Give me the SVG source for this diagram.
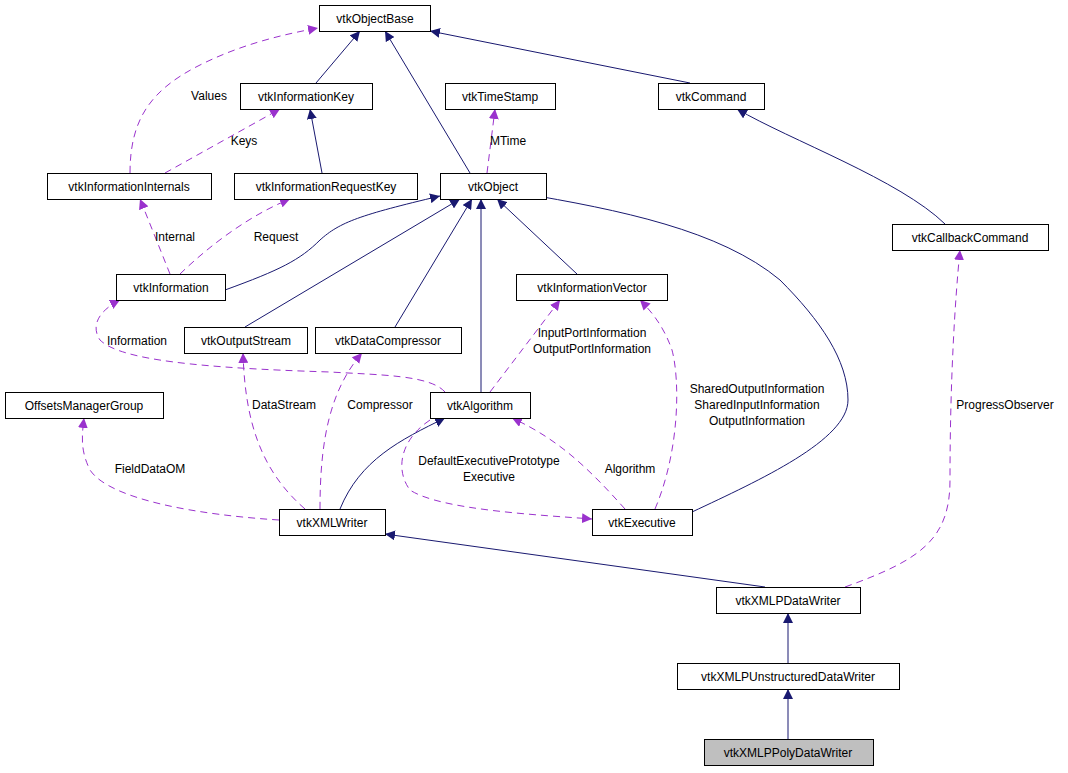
<svg xmlns="http://www.w3.org/2000/svg" width="1068" height="773" viewBox="0 0 1068 773">
<style>
text{font-family:"Liberation Sans",Arial,sans-serif;font-size:12px;fill:#000}
.n rect{fill:#fff;stroke:#000;stroke-width:1}
.n text{text-anchor:middle}
.s{fill:none;stroke:#191970;stroke-width:1;marker-end:url(#ms)}
.d{fill:none;stroke:#9a32cd;stroke-width:1;stroke-dasharray:7,5;marker-end:url(#md)}
.l{text-anchor:middle}
</style>
<defs>
<marker id="ms" viewBox="0 0 10 10" refX="10" refY="5" markerWidth="10" markerHeight="10" markerUnits="userSpaceOnUse" orient="auto"><path d="M0,0L10,5L0,10z" fill="#191970"/></marker>
<marker id="md" viewBox="0 0 10 10" refX="10" refY="5" markerWidth="10" markerHeight="10" markerUnits="userSpaceOnUse" orient="auto"><path d="M0,0L10,5L0,10z" fill="#9a32cd"/></marker>
</defs>
<rect width="1068" height="773" fill="#fff"/>
<g id="edges">
<path class="s" d="M316,83L360,31"/>
<path class="s" d="M470,173L385,31"/>
<path class="s" d="M690,83L430,31"/>
<path class="s" d="M322,173L310,109"/>
<path class="s" d="M945,224C900,180 790,140 737,109"/>
<path class="s" d="M225,290C280,270 300,260 320,240C340,222 360,215 440,196"/>
<path class="s" d="M245,327L460,199"/>
<path class="s" d="M395,327L472,199"/>
<path class="s" d="M481,392L481,199"/>
<path class="s" d="M577,274L497,199"/>
<path class="s" d="M692,512C760,480 848,440 848,400C848,360 820,320 780,280C720,230 620,210 520,193"/>
<path class="s" d="M340,509C360,460 400,440 445,418"/>
<path class="s" d="M765,587L385,534"/>
<path class="s" d="M788,663L788,613"/>
<path class="s" d="M788,739L788,689"/>
<path class="d" d="M130,173C130,120 150,90 200,65C240,45 280,35 318,28"/>
<path class="d" d="M165,173L280,109"/>
<path class="d" d="M487,173L495,109"/>
<path class="d" d="M170,274L140,199"/>
<path class="d" d="M180,274C210,245 250,215 290,199"/>
<path class="d" d="M445,392C430,375 380,375 330,372C200,368 120,360 100,340C90,325 100,310 120,300"/>
<path class="d" d="M490,392L560,300"/>
<path class="d" d="M655,509C680,450 680,380 672,350C665,330 655,315 640,300"/>
<path class="d" d="M305,509C260,470 245,420 243,353"/>
<path class="d" d="M320,509C320,440 330,390 362,353"/>
<path class="d" d="M279,520C200,515 110,500 90,470C80,450 82,435 84,418"/>
<path class="d" d="M625,509C590,470 560,440 512,418"/>
<path class="d" d="M430,420C400,440 395,470 410,490C440,510 540,515 592,519"/>
<path class="d" d="M845,587C920,560 950,540 950,480C950,380 955,300 960,250"/>
</g>
<g id="labels">
<text class="l" x="209" y="100">Values</text>
<text class="l" x="244" y="145">Keys</text>
<text class="l" x="508" y="145">MTime</text>
<text class="l" x="175" y="241">Internal</text>
<text class="l" x="276" y="241">Request</text>
<text class="l" x="137" y="345">Information</text>
<text class="l" x="592" y="337">InputPortInformation</text>
<text class="l" x="592" y="353">OutputPortInformation</text>
<text class="l" x="757" y="393">SharedOutputInformation</text>
<text class="l" x="757" y="409">SharedInputInformation</text>
<text class="l" x="757" y="425">OutputInformation</text>
<text class="l" x="284" y="409">DataStream</text>
<text class="l" x="380" y="409">Compressor</text>
<text class="l" x="150" y="473">FieldDataOM</text>
<text class="l" x="630" y="473">Algorithm</text>
<text class="l" x="489" y="465">DefaultExecutivePrototype</text>
<text class="l" x="489" y="481">Executive</text>
<text class="l" x="1005" y="409">ProgressObserver</text>
</g>
<g id="vtkObjectBase" class="n"><rect x="319.5" y="5.5" width="111" height="26"/><text x="375" y="23">vtkObjectBase</text></g>
<g id="vtkInformationKey" class="n"><rect x="240.5" y="83.5" width="132" height="26"/><text x="306" y="101">vtkInformationKey</text></g>
<g id="vtkTimeStamp" class="n"><rect x="445.5" y="83.5" width="110" height="26"/><text x="500" y="101">vtkTimeStamp</text></g>
<g id="vtkCommand" class="n"><rect x="658.5" y="83.5" width="106" height="26"/><text x="711" y="101">vtkCommand</text></g>
<g id="vtkInformationInternals" class="n"><rect x="47.5" y="173.5" width="164" height="26"/><text x="129" y="191">vtkInformationInternals</text></g>
<g id="vtkInformationRequestKey" class="n"><rect x="234.5" y="173.5" width="183" height="26"/><text x="326" y="191">vtkInformationRequestKey</text></g>
<g id="vtkObject" class="n"><rect x="440.5" y="173.5" width="106" height="26"/><text x="493" y="191">vtkObject</text></g>
<g id="vtkCallbackCommand" class="n"><rect x="892.5" y="224.5" width="156" height="26"/><text x="970" y="242">vtkCallbackCommand</text></g>
<g id="vtkInformation" class="n"><rect x="116.5" y="274.5" width="109" height="26"/><text x="171" y="292">vtkInformation</text></g>
<g id="vtkInformationVector" class="n"><rect x="516.5" y="274.5" width="151" height="26"/><text x="592" y="292">vtkInformationVector</text></g>
<g id="vtkOutputStream" class="n"><rect x="184.5" y="327.5" width="123" height="26"/><text x="246" y="345">vtkOutputStream</text></g>
<g id="vtkDataCompressor" class="n"><rect x="315.5" y="327.5" width="146" height="26"/><text x="388" y="345">vtkDataCompressor</text></g>
<g id="OffsetsManagerGroup" class="n"><rect x="5.5" y="392.5" width="158" height="26"/><text x="84" y="410">OffsetsManagerGroup</text></g>
<g id="vtkAlgorithm" class="n"><rect x="430.5" y="392.5" width="100" height="26"/><text x="480" y="410">vtkAlgorithm</text></g>
<g id="vtkXMLWriter" class="n"><rect x="279.5" y="509.5" width="106" height="26"/><text x="332" y="527">vtkXMLWriter</text></g>
<g id="vtkExecutive" class="n"><rect x="592.5" y="509.5" width="100" height="26"/><text x="642" y="527">vtkExecutive</text></g>
<g id="vtkXMLPDataWriter" class="n"><rect x="716.5" y="587.5" width="144" height="26"/><text x="788" y="605">vtkXMLPDataWriter</text></g>
<g id="vtkXMLPUnstructuredDataWriter" class="n"><rect x="677.5" y="663.5" width="222" height="26"/><text x="788" y="681">vtkXMLPUnstructuredDataWriter</text></g>
<g id="vtkXMLPPolyDataWriter" class="n"><rect x="704.5" y="739.5" width="169" height="26" style="fill:#bfbfbf"/><text x="788" y="757">vtkXMLPPolyDataWriter</text></g>
</svg>
